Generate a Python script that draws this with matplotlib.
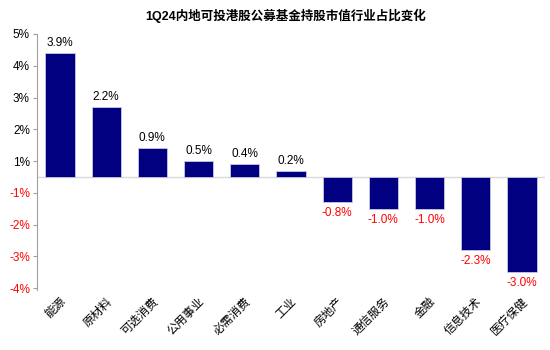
import matplotlib.pyplot as plt
import numpy as np

plt.rcParams['font.family'] = ['Liberation Sans', 'Noto Sans CJK SC', 'DejaVu Sans']

categories = ["能源", "原材料", "可选消费", "公用事业", "必需消费", "工业",
              "房地产", "通信服务", "金融", "信息技术", "医疗保健"]
values = [3.9, 2.2, 0.9, 0.5, 0.4, 0.2, -0.8, -1.0, -1.0, -2.3, -3.0]
# tick positions sit half a unit off zero, labels as in the original
tick_pos = [4.5, 3.5, 2.5, 1.5, 0.5, -0.5, -1.5, -2.5, -3.5]
tick_labels = ["5%", "4%", "3%", "2%", "1%", "-1%", "-2%", "-3%", "-4%"]

BAR = "#000080"
RED = "#FF0000"

fig = plt.figure(figsize=(5.5, 3.5), dpi=100)
ax = fig.add_axes([0.067, 0.171, 0.924, 0.732])

x = np.arange(len(categories))
ax.bar(x, values, width=0.63, color=BAR, edgecolor="#c8c8e0", linewidth=0.6, zorder=2)

for xi, v in zip(x, values):
    if v >= 0:
        ax.text(xi, v + 0.13, f"{v:.1f}%", ha="center", va="bottom", fontsize=8.5, color="black")
    else:
        ax.text(xi, v - 0.15, f"{v:.1f}%", ha="center", va="top", fontsize=8.5, color=RED)

ax.axhline(0, color="#d9d9d9", linewidth=1.0, zorder=1)

ax.set_xlim(-0.5, 10.5)
ax.set_ylim(-3.56, 4.5)
ax.set_yticks(tick_pos)
ax.set_yticklabels(tick_labels, fontsize=8.5)
for lbl, v in zip(ax.get_yticklabels(), tick_pos):
    lbl.set_color(RED if v < 0 else "black")

ax.set_xticks(x)
ax.set_xticklabels(categories, rotation=45, ha="right", va="top",
                   rotation_mode="anchor", fontsize=8.5)
ax.tick_params(axis="x", length=0, pad=4)
ax.tick_params(axis="y", length=3, color="#a0a0a0", pad=2)

for s in ["top", "right", "bottom"]:
    ax.spines[s].set_visible(False)
ax.spines["left"].set_color("#a0a0a0")

fig.text(0.52, 0.955, "1Q24内地可投港股公募基金持股市值行业占比变化",
         ha="center", va="center", fontsize=9, fontweight="bold")

fig.savefig("out.png", dpi=100)
